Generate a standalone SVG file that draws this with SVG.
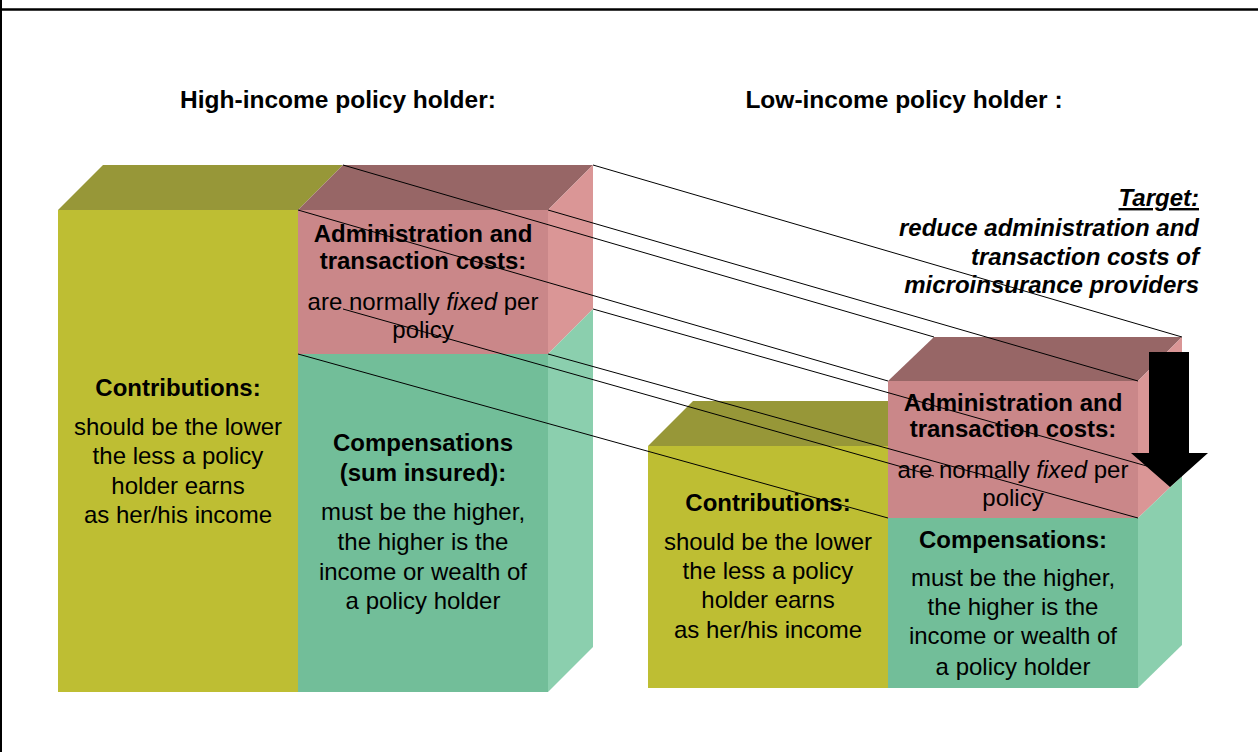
<svg xmlns="http://www.w3.org/2000/svg" width="1258" height="752" viewBox="0 0 1258 752">
<style>
text{font-family:"Liberation Sans",Arial,sans-serif;font-size:24px;fill:#000;text-anchor:middle}
.b{font-weight:bold}
.ti{font-weight:bold;font-size:24.5px}
.tg{font-weight:bold;font-style:italic;text-anchor:end}
.yf{fill:#bebe33}.yt{fill:#979738}
.pf{fill:#ca8789}.pt{fill:#976666}.ps{fill:#da9696}
.gf{fill:#72be99}.gs{fill:#8bcfae}
.cn line{stroke:#000;stroke-width:1}
</style>
<rect x="0" y="0" width="1258" height="752" fill="#fff"/>
<g id="frame">
<line x1="1" y1="0" x2="1" y2="752" stroke="#000" stroke-width="2"/>
<line x1="0" y1="9.5" x2="1258" y2="9.5" stroke="#000" stroke-width="2.5"/>
</g>
<g id="title-high"><text class="ti" x="338" y="108">High-income policy holder:</text></g>
<g id="title-low"><text class="ti" x="904" y="108">Low-income policy holder :</text></g>

<g id="high-contributions">
<polygon class="yt" points="58,210 103,165 343,165 298,210"/>
<rect class="yf" x="58" y="210" width="240" height="482"/>
<text class="b" x="178" y="396">Contributions:</text>
<text x="178" y="435">should be the lower</text>
<text x="178" y="464">the less a policy</text>
<text x="178" y="494">holder earns</text>
<text x="178" y="523">as her/his income</text>
</g>
<g id="high-admin">
<polygon class="pt" points="298,210 343,165 593,165 548,210"/>
<polygon class="ps" points="548,210 593,165 593,309 548,354"/>
<rect class="pf" x="298" y="210" width="250" height="144"/>
<text class="b" x="423" y="242">Administration and</text>
<text class="b" x="423" y="269">transaction costs:</text>
<text x="423" y="310">are normally <tspan font-style="italic">fixed</tspan> per</text>
<text x="423" y="338">policy</text>
</g>
<g id="high-compensations">
<polygon class="gs" points="548,354 593,309 593,647 548,692"/>
<rect class="gf" x="298" y="354" width="250" height="338"/>
<text class="b" x="423" y="451">Compensations</text>
<text class="b" x="423" y="481">(sum insured):</text>
<text x="423" y="520">must be the higher,</text>
<text x="423" y="550">the higher is the</text>
<text x="423" y="580">income or wealth of</text>
<text x="423" y="609">a policy holder</text>
</g>

<g id="low-contributions">
<polygon class="yt" points="648,446 693,401 933,401 888,446"/>
<rect class="yf" x="648" y="446" width="240" height="242"/>
<text class="b" x="768" y="511">Contributions:</text>
<text x="768" y="550">should be the lower</text>
<text x="768" y="579">the less a policy</text>
<text x="768" y="608">holder earns</text>
<text x="768" y="638">as her/his income</text>
</g>
<g id="low-admin">
<polygon class="pt" points="888,381 934,337 1182,337 1138,381"/>
<polygon class="ps" points="1138,381 1182,337 1182,476 1138,518"/>
<rect class="pf" x="888" y="381" width="250" height="137"/>
<text class="b" x="1013" y="411">Administration and</text>
<text class="b" x="1013" y="437">transaction costs:</text>
<text x="1013" y="478">are normally <tspan font-style="italic">fixed</tspan> per</text>
<text x="1013" y="506">policy</text>
</g>
<g id="low-compensations">
<polygon class="gs" points="1138,518 1182,476 1182,645 1138,688"/>
<rect class="gf" x="888" y="518" width="250" height="170"/>
<text class="b" x="1013" y="548">Compensations:</text>
<text x="1013" y="586">must be the higher,</text>
<text x="1013" y="615">the higher is the</text>
<text x="1013" y="644">income or wealth of</text>
<text x="1013" y="675">a policy holder</text>
</g>

<g id="target">
<text class="tg" x="1199" y="206" text-decoration="underline">Target:</text>
<text class="tg" x="1199" y="236">reduce administration and</text>
<text class="tg" x="1199" y="265">transaction costs of</text>
<text class="tg" x="1199" y="293">microinsurance providers</text>
</g>

<g id="arrow">
<polygon fill="#000" points="1149,352 1189,352 1189,453 1208,453 1170,487 1131,453 1149,453"/>
</g>

<g id="connectors" class="cn">
<line x1="343" y1="165" x2="934" y2="337"/>
<line x1="593" y1="165" x2="1182" y2="337"/>
<line x1="298" y1="210" x2="888" y2="381"/>
<line x1="548" y1="210" x2="1138" y2="381"/>
<line x1="343" y1="309" x2="934" y2="476"/>
<line x1="593" y1="309" x2="1182" y2="476"/>
<line x1="298" y1="354" x2="888" y2="518"/>
<line x1="548" y1="354" x2="1138" y2="518"/>
</g>
</svg>
